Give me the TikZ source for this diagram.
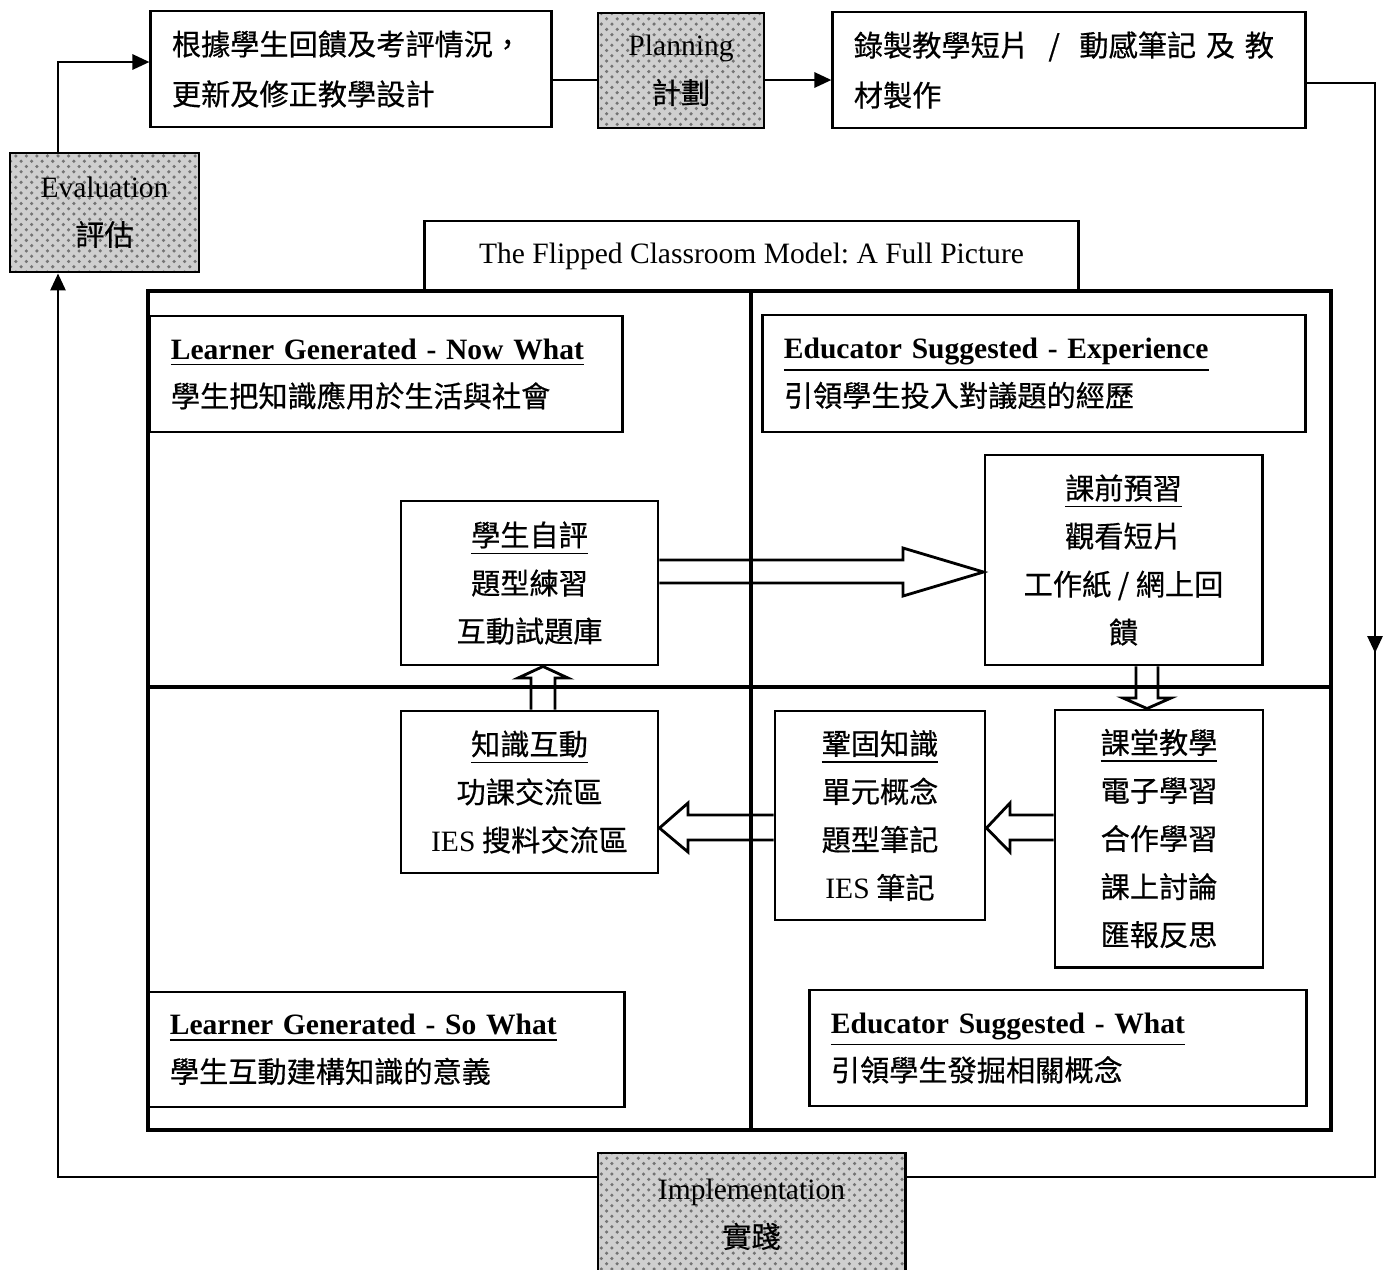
\documentclass[tikz,border=0pt]{standalone}
\usepackage{fontspec}
\setmainfont{Liberation Serif}
\newfontfamily\cjk[FakeBold=0.5]{Noto Sans CJK TC}
\newcommand\eng[1]{{\rmfamily\frenchspacing\fontsize{8.4}{13.66}\selectfont #1}}
\usetikzlibrary{arrows.meta,patterns}
\tikzset{
  box/.style={draw, line width=0.8pt, inner sep=0pt, align=center, font=\cjk\fontsize{8.3}{13.66}\selectfont},
  leftbox/.style={box, align=left, inner xsep=0.21cm},
  shadebox/.style={box, draw=none, fill=gray!38, postaction={pattern=crosshatch dots, pattern color=black!55}, postaction={draw, line width=0.8pt}},
  flow/.style={line width=0.8pt, -{Triangle[length=0.17cm,width=0.15cm]}},
  hollow/.style={line width=0.8pt, line join=miter},
}
\begin{document}
\begin{tikzpicture}[x=0.01cm,y=-0.01cm]
\useasboundingbox (0,0) rectangle (1383,1269);
\clip (0,0) rectangle (1383,1269);
% cycle round the model
\node[leftbox, minimum width=4cm, minimum height=1.16cm, text width=3.58cm, font=\cjk\fontsize{8.3}{14.2}\selectfont] (review) at (351,69) {根據學生回饋及考評情況，\\更新及修正教學設計};
\node[shadebox, minimum width=1.66cm, minimum height=1.15cm] (plan) at (681,70.5) {\eng{Planning}\\計劃};
\node[leftbox, minimum width=4.72cm, minimum height=1.16cm, text width=4.3cm, font=\cjk\fontsize{8.3}{14.2}\selectfont] (media) at (1069,70) {\mbox{錄製教學短片 \ / \ 動感筆記 及 教}\\材製作};
\node[shadebox, minimum width=1.89cm, minimum height=1.19cm] (eval) at (104.5,212.5) {\eng{Evaluation}\\評估};
\node[shadebox, minimum width=3.07cm, minimum height=1.23cm] (impl) at (751.5,1214.5) {\eng{Implementation}\\實踐};
\draw[flow] (eval.north -| 58,0) |- (review.west |- 0,62);
\draw[line width=0.8pt] (review.east |- 0,80) -- (plan.west |- 0,80);
\draw[flow] (plan.east |- 0,80) -- (media.west |- 0,80);
\draw[flow] (media.east |- 0,83) -| (1375,653);
\draw[line width=0.8pt] (1375,648) |- (impl.east |- 0,1177);
\draw[flow] (impl.west |- 0,1177) -| (eval.south -| 58,0);
% the model
\node[box, minimum width=6.53cm, minimum height=0.70cm] (title) at (751.5,256) {\eng{The Flipped Classroom Model: A Full Picture}};
\draw[line width=1.2pt] (148,291) rectangle (1331,1130);
\draw[line width=0.9pt] (751,291) -- (751,1130);
\draw[line width=0.9pt] (148,687) -- (1331,687);
\node[leftbox, minimum width=4.72cm, minimum height=1.16cm, text width=4.3cm] (nowwhat) at (386,374) {\eng{\underline{\textbf{Learner Generated - Now What}}}\\學生把知識應用於生活與社會};
\node[leftbox, minimum width=5.42cm, minimum height=1.17cm, text width=5cm] (experience) at (1034,373.5) {\eng{\underline{\textbf{Educator Suggested - Experience}}}\\引領學生投入對議題的經歷};
\node[leftbox, minimum width=4.75cm, minimum height=1.15cm, text width=4.33cm] (sowhat) at (386.5,1049.5) {\eng{\underline{\textbf{Learner Generated - So What}}}\\學生互動建構知識的意義};
\node[leftbox, minimum width=4.96cm, minimum height=1.16cm, text width=4.54cm] (what) at (1058,1048) {\eng{\underline{\textbf{Educator Suggested - What}}}\\引領學生發掘相關概念};
\node[box, minimum width=2.57cm, minimum height=1.64cm] (selfeval) at (529.5,583) {\underline{學生自評}\\題型練習\\互動試題庫};
\node[box, minimum width=2.77cm, minimum height=2.10cm] (preview) at (1123.5,560) {\underline{課前預習}\\觀看短片\\工作紙 / 網上回\\饋};
\node[box, minimum width=2.57cm, minimum height=1.62cm] (interact) at (529.5,792) {\underline{知識互動}\\功課交流區\\\eng{IES} 搜料交流區};
\node[box, minimum width=2.10cm, minimum height=2.09cm] (consol) at (880,815.5) {\underline{鞏固知識}\\單元概念\\題型筆記\\\eng{IES} 筆記};
\node[box, minimum width=2.08cm, minimum height=2.57cm] (lesson) at (1159,838.5) {\underline{課堂教學}\\電子學習\\合作學習\\課上討論\\匯報反思};
% hollow block arrows
\draw[hollow] (selfeval.east |- 0,560) -- (903,560) -- (903,548) -- (preview.west |- 0,572) -- (903,596) -- (903,583) -- (selfeval.east |- 0,583);
\draw[hollow] (interact.north -| 531,0) -- (531,678) -- (518,678) -- (selfeval.south -| 543,0) -- (568,678) -- (555,678) -- (interact.north -| 555,0);
\draw[hollow] (preview.south -| 1136,0) -- (1136,698) -- (1123,698) -- (lesson.north -| 1147,0) -- (1171,698) -- (1158,698) -- (preview.south -| 1158,0);
\draw[hollow] (consol.west |- 0,815) -- (688,815) -- (688,803) -- (interact.east |- 0,828) -- (688,852) -- (688,840) -- (consol.west |- 0,840);
\draw[hollow] (lesson.west |- 0,815) -- (1010,815) -- (1010,803) -- (consol.east |- 0,828) -- (1010,852) -- (1010,840) -- (lesson.west |- 0,840);
\end{tikzpicture}
\end{document}
